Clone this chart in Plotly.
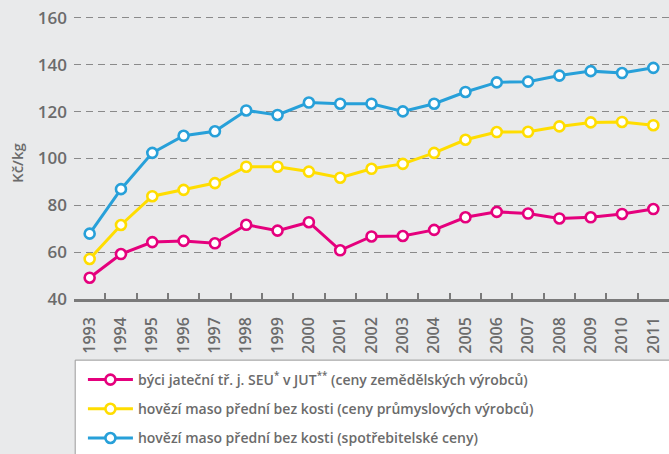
import plotly.graph_objects as go

years = [str(y) for y in range(1993, 2012)]
byci = [49.1, 59.2, 64.3, 64.8, 63.8, 71.7, 69.2, 72.8, 60.8, 66.7, 66.9, 69.5, 74.9, 77.2, 76.5, 74.4, 74.9, 76.3, 78.4]
prumysl = [57.1, 71.6, 83.9, 86.6, 89.5, 96.5, 96.5, 94.4, 91.8, 95.6, 97.7, 102.4, 108.0, 111.3, 111.4, 113.7, 115.4, 115.6, 114.2]
spotreb = [67.9, 86.9, 102.4, 109.7, 111.6, 120.5, 118.6, 123.9, 123.4, 123.4, 120.1, 123.4, 128.4, 132.5, 132.8, 135.4, 137.3, 136.5, 138.7]
names = [
    "býci jateční tř. j. SEU<sup>*</sup> v JUT<sup>**</sup> (ceny zemědělských výrobců)",
    "hovězí maso přední bez kosti (ceny průmyslových výrobců)",
    "hovězí maso přední bez kosti (spotřebitelské ceny)",
]
colors = ["#e5007d", "#ffdd00", "#27a0d9"]
yticks = [40, 60, 80, 100, 120, 140, 160]

BG = "#e9eaeb"
TXT = "#6b6b6b"
FONT = "Open Sans"

TOP = 16
fig = go.Figure()
for i, (vals, name, col) in enumerate(zip([byci, prumysl, spotreb], names, colors)):
    fig.add_trace(go.Scatter(
        x=years, y=vals, name=name, mode="lines+markers",
        line=dict(color=col, width=3),
        marker=dict(symbol="circle", size=10, color="white", line=dict(color=col, width=2.6)),
        legendgroup=f"g{i}",
    ))

plot_h = 303 - TOP
fig.update_layout(
    width=669, height=454,
    margin=dict(l=74, r=0, t=TOP, b=151),
    paper_bgcolor=BG, plot_bgcolor=BG,
    font=dict(family=FONT, color=TXT, size=14),
    showlegend=True,
    legend=dict(
        x=0.015, y=(303 - 369) / plot_h, xanchor="left", yanchor="top",
        bgcolor="rgba(0,0,0,0)", borderwidth=0,
        font=dict(family=FONT, size=14, color=TXT, weight=600),
        traceorder="grouped", tracegroupgap=8, itemwidth=45,
    ),
    shapes=[dict(
        type="rect", xref="paper", yref="paper",
        x0=0.002, x1=1.02, y0=-0.6, y1=(303 - 365) / plot_h,
        fillcolor="white", line=dict(color="#9a9a9a", width=1), layer="below",
    )],
    annotations=[dict(
        text="Kč/kg", textangle=-90, xref="paper", yref="paper",
        x=(17 - 74) / 595, y=(303 - 165) / plot_h, xanchor="center", yanchor="middle",
        showarrow=False, font=dict(family=FONT, size=15, color=TXT, weight=600),
    )],
)

fig.update_xaxes(
    type="category", range=[-0.5, 18.5], automargin=False,
    showgrid=False, showline=True, linecolor="#7a7a7a", linewidth=2.5,
    ticks="inside", tickson="boundaries", ticklen=6, tickcolor="#7a7a7a", tickwidth=1.5,
    tickangle=-90, tickfont=dict(size=16, color=TXT, family=FONT, weight=600),
    ticklabelstandoff=9,
)
fig.update_yaxes(
    range=[40, 40 + plot_h / 2.375], tickvals=yticks, automargin=False,
    showgrid=True, gridcolor="#8a8a8a", griddash="7px,5px", gridwidth=1.2,
    zeroline=False, showline=False,
    tickfont=dict(size=17, color=TXT, family=FONT, weight=600),
    ticklabelstandoff=6,
)

fig.write_html(
    "out.html",
    config={"displayModeBar": False},
    post_script="document.body.style.margin='0';document.body.style.background='#e9eaeb';",
)
